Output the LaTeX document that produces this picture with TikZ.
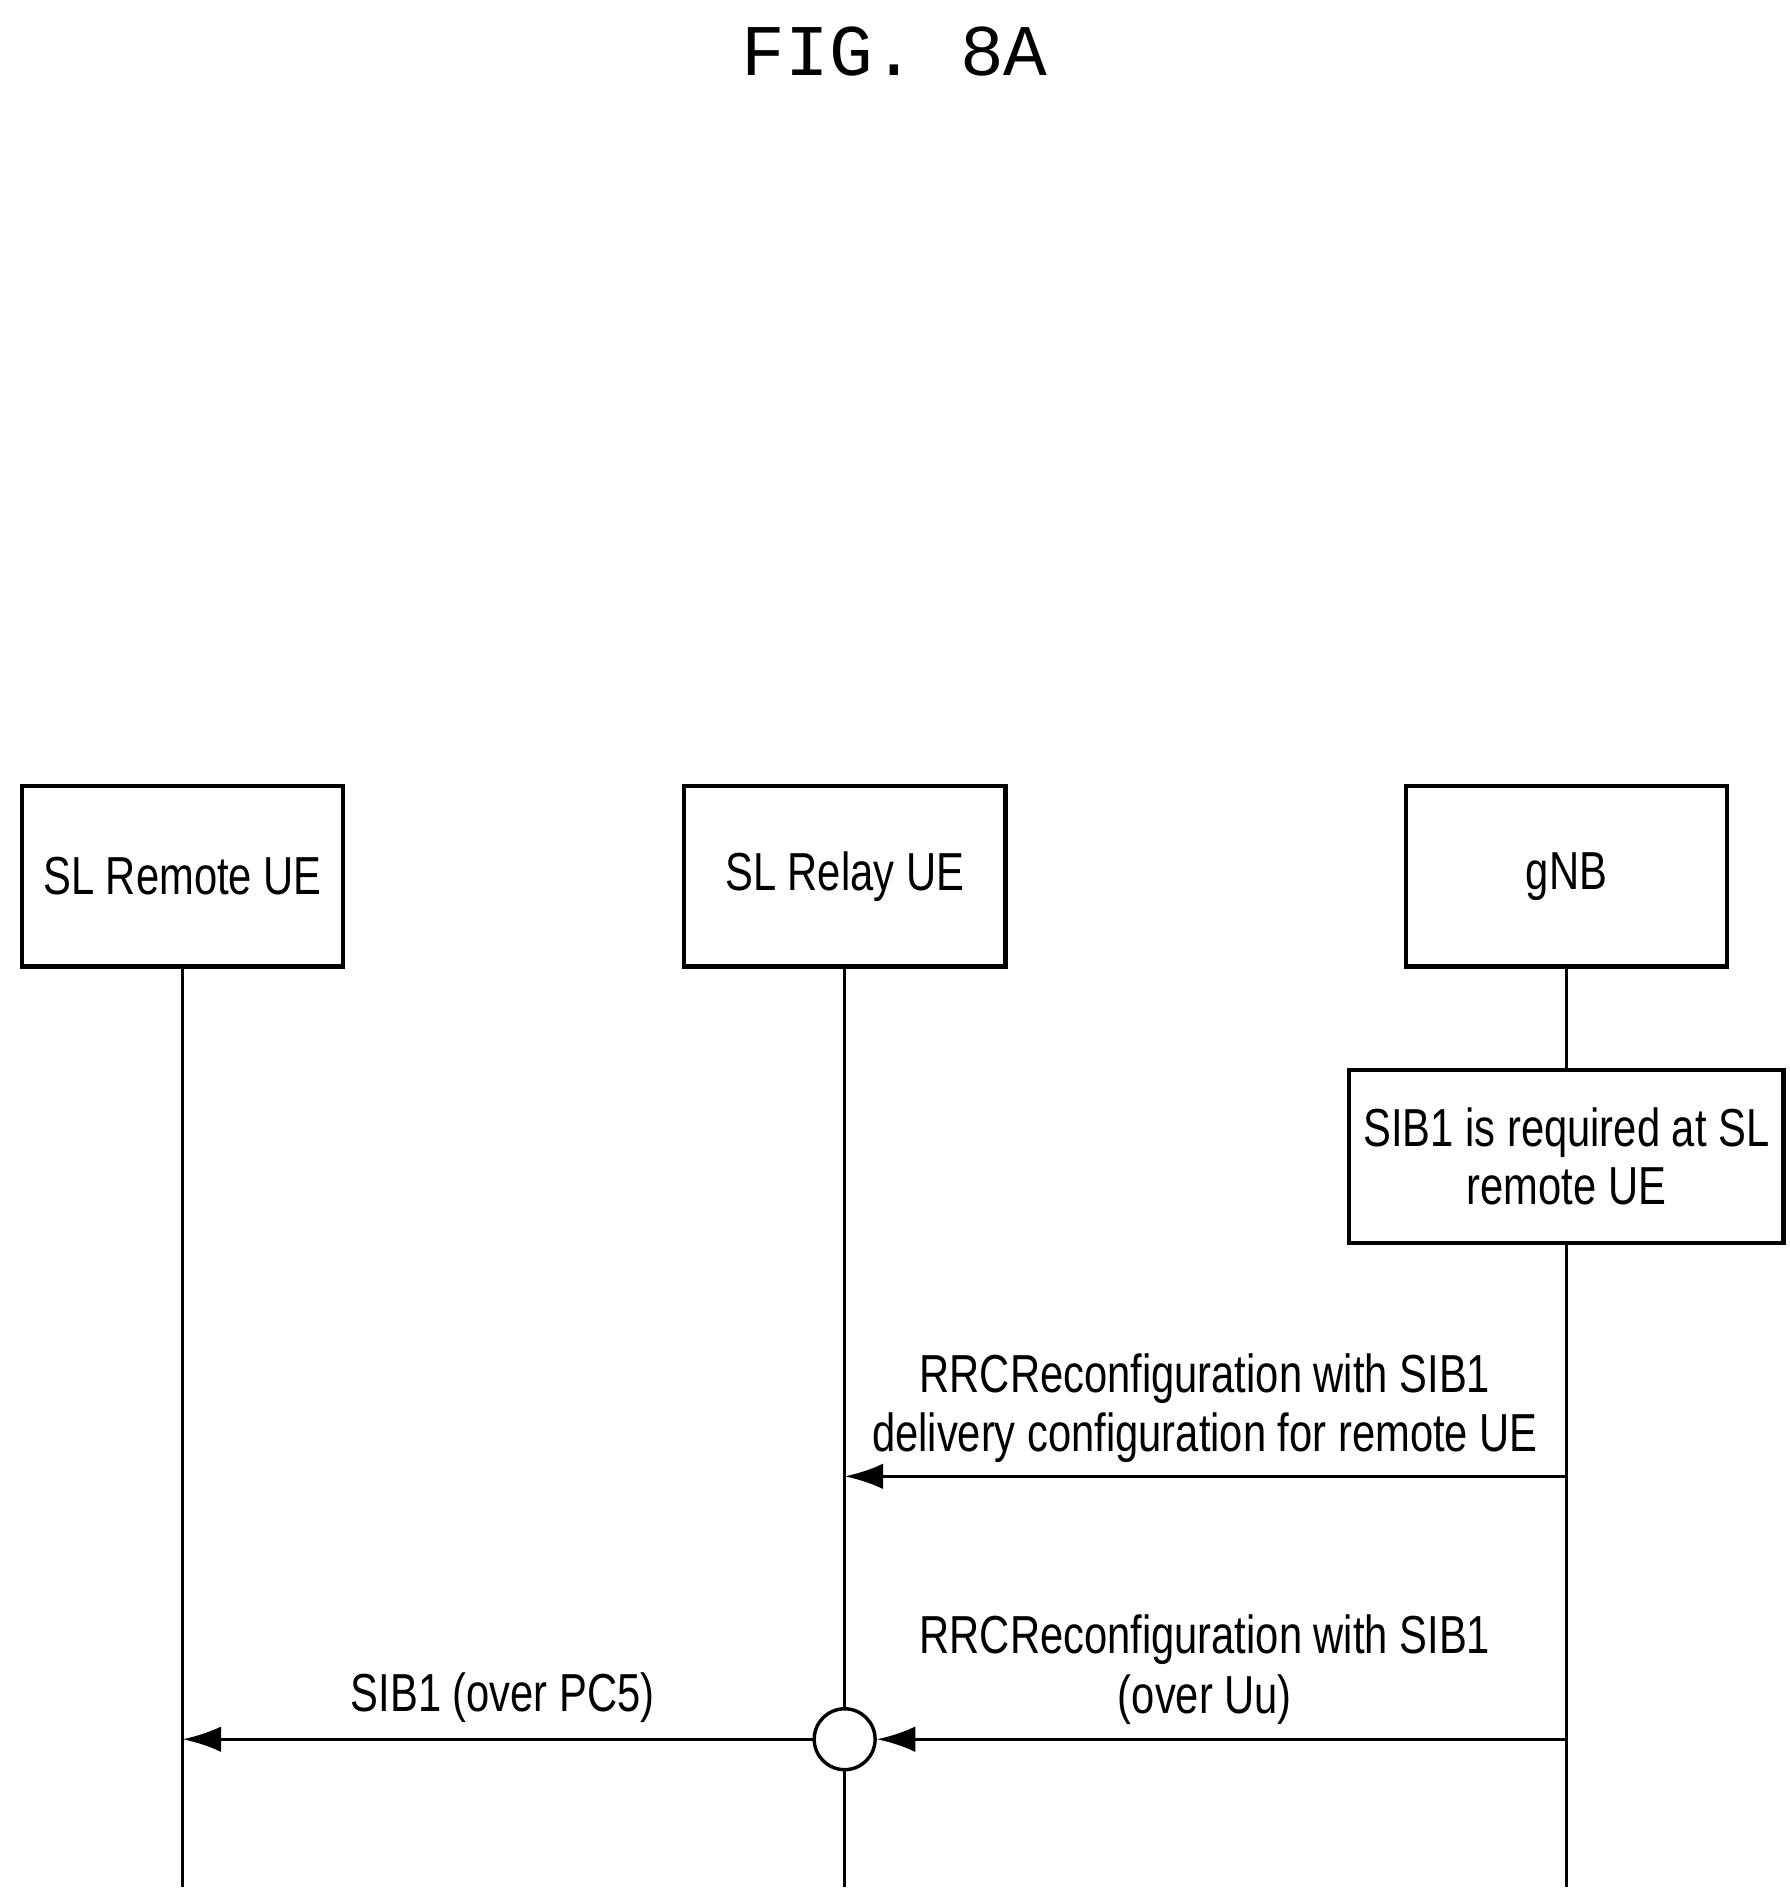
\documentclass[tikz,border=0pt]{standalone}
\usepackage{fontspec}
\setmainfont{Liberation Sans}[FakeStretch=0.78]
\newfontfamily\monofont{Liberation Mono}
\usetikzlibrary{arrows.meta}
\begin{document}
\begin{tikzpicture}[x=0.01cm,y=-0.01cm,
  ent/.style={draw,line width=1pt,minimum width=2.64cm,minimum height=1.48cm,font=\fontsize{12.5}{15}\selectfont},
  life/.style={line width=0.8pt},
  msg/.style={line width=0.8pt,-{Latex[length=9pt,width=6pt]}},
  lbl/.style={font=\fontsize{12.5}{14}\selectfont,align=center}]
\useasboundingbox (0,0) rectangle (1470,1557);
\node[font=\monofont\fontsize{17}{20}\selectfont] (title) at (735,42) {FIG. 8A};
\node[ent] (rem) at (150,720) {SL Remote UE};
\node[ent] (rel) at (694,720) {SL Relay UE};
\node[ent] (gnb) at (1287,720) {gNB};
\coordinate (remE) at (150,1550);
\coordinate (relE) at (694,1550);
\coordinate (gnbE) at (1287,1550);
\node[draw,line width=1pt,minimum width=3.5cm,minimum height=1.42cm,lbl,font=\fontsize{12.5}{13.5}\selectfont] (note) at (1287,950) {SIB1 is required at SL\\remote UE};
\draw[life] (rem) -- (remE);
\draw[life] (rel.south) -- (694,1404);
\draw[life] (694,1454) -- (relE);
\draw[life] (gnb) -- (note);
\draw[life] (note) -- (gnbE);
\coordinate (a1s) at (1287,1213);
\coordinate (a1e) at (694,1213);
\draw[msg] (a1s) -- (a1e);
\node[lbl] (l1) at (990,1157) {RRCReconfiguration with SIB1\\delivery configuration for remote UE};
\node[draw,circle,line width=0.8pt,minimum size=0.5cm,inner sep=0pt] (c) at (694,1429) {};
\coordinate (a2s) at (1287,1429);
\draw[msg] (a2s) -- (c);
\node[lbl] (l2) at (990,1372) {RRCReconfiguration with SIB1\\(over Uu)};
\coordinate (a3e) at (150,1429);
\draw[msg] (c) -- (a3e);
\node[lbl] (l3) at (413,1395) {SIB1 (over PC5)};
\end{tikzpicture}
\end{document}
